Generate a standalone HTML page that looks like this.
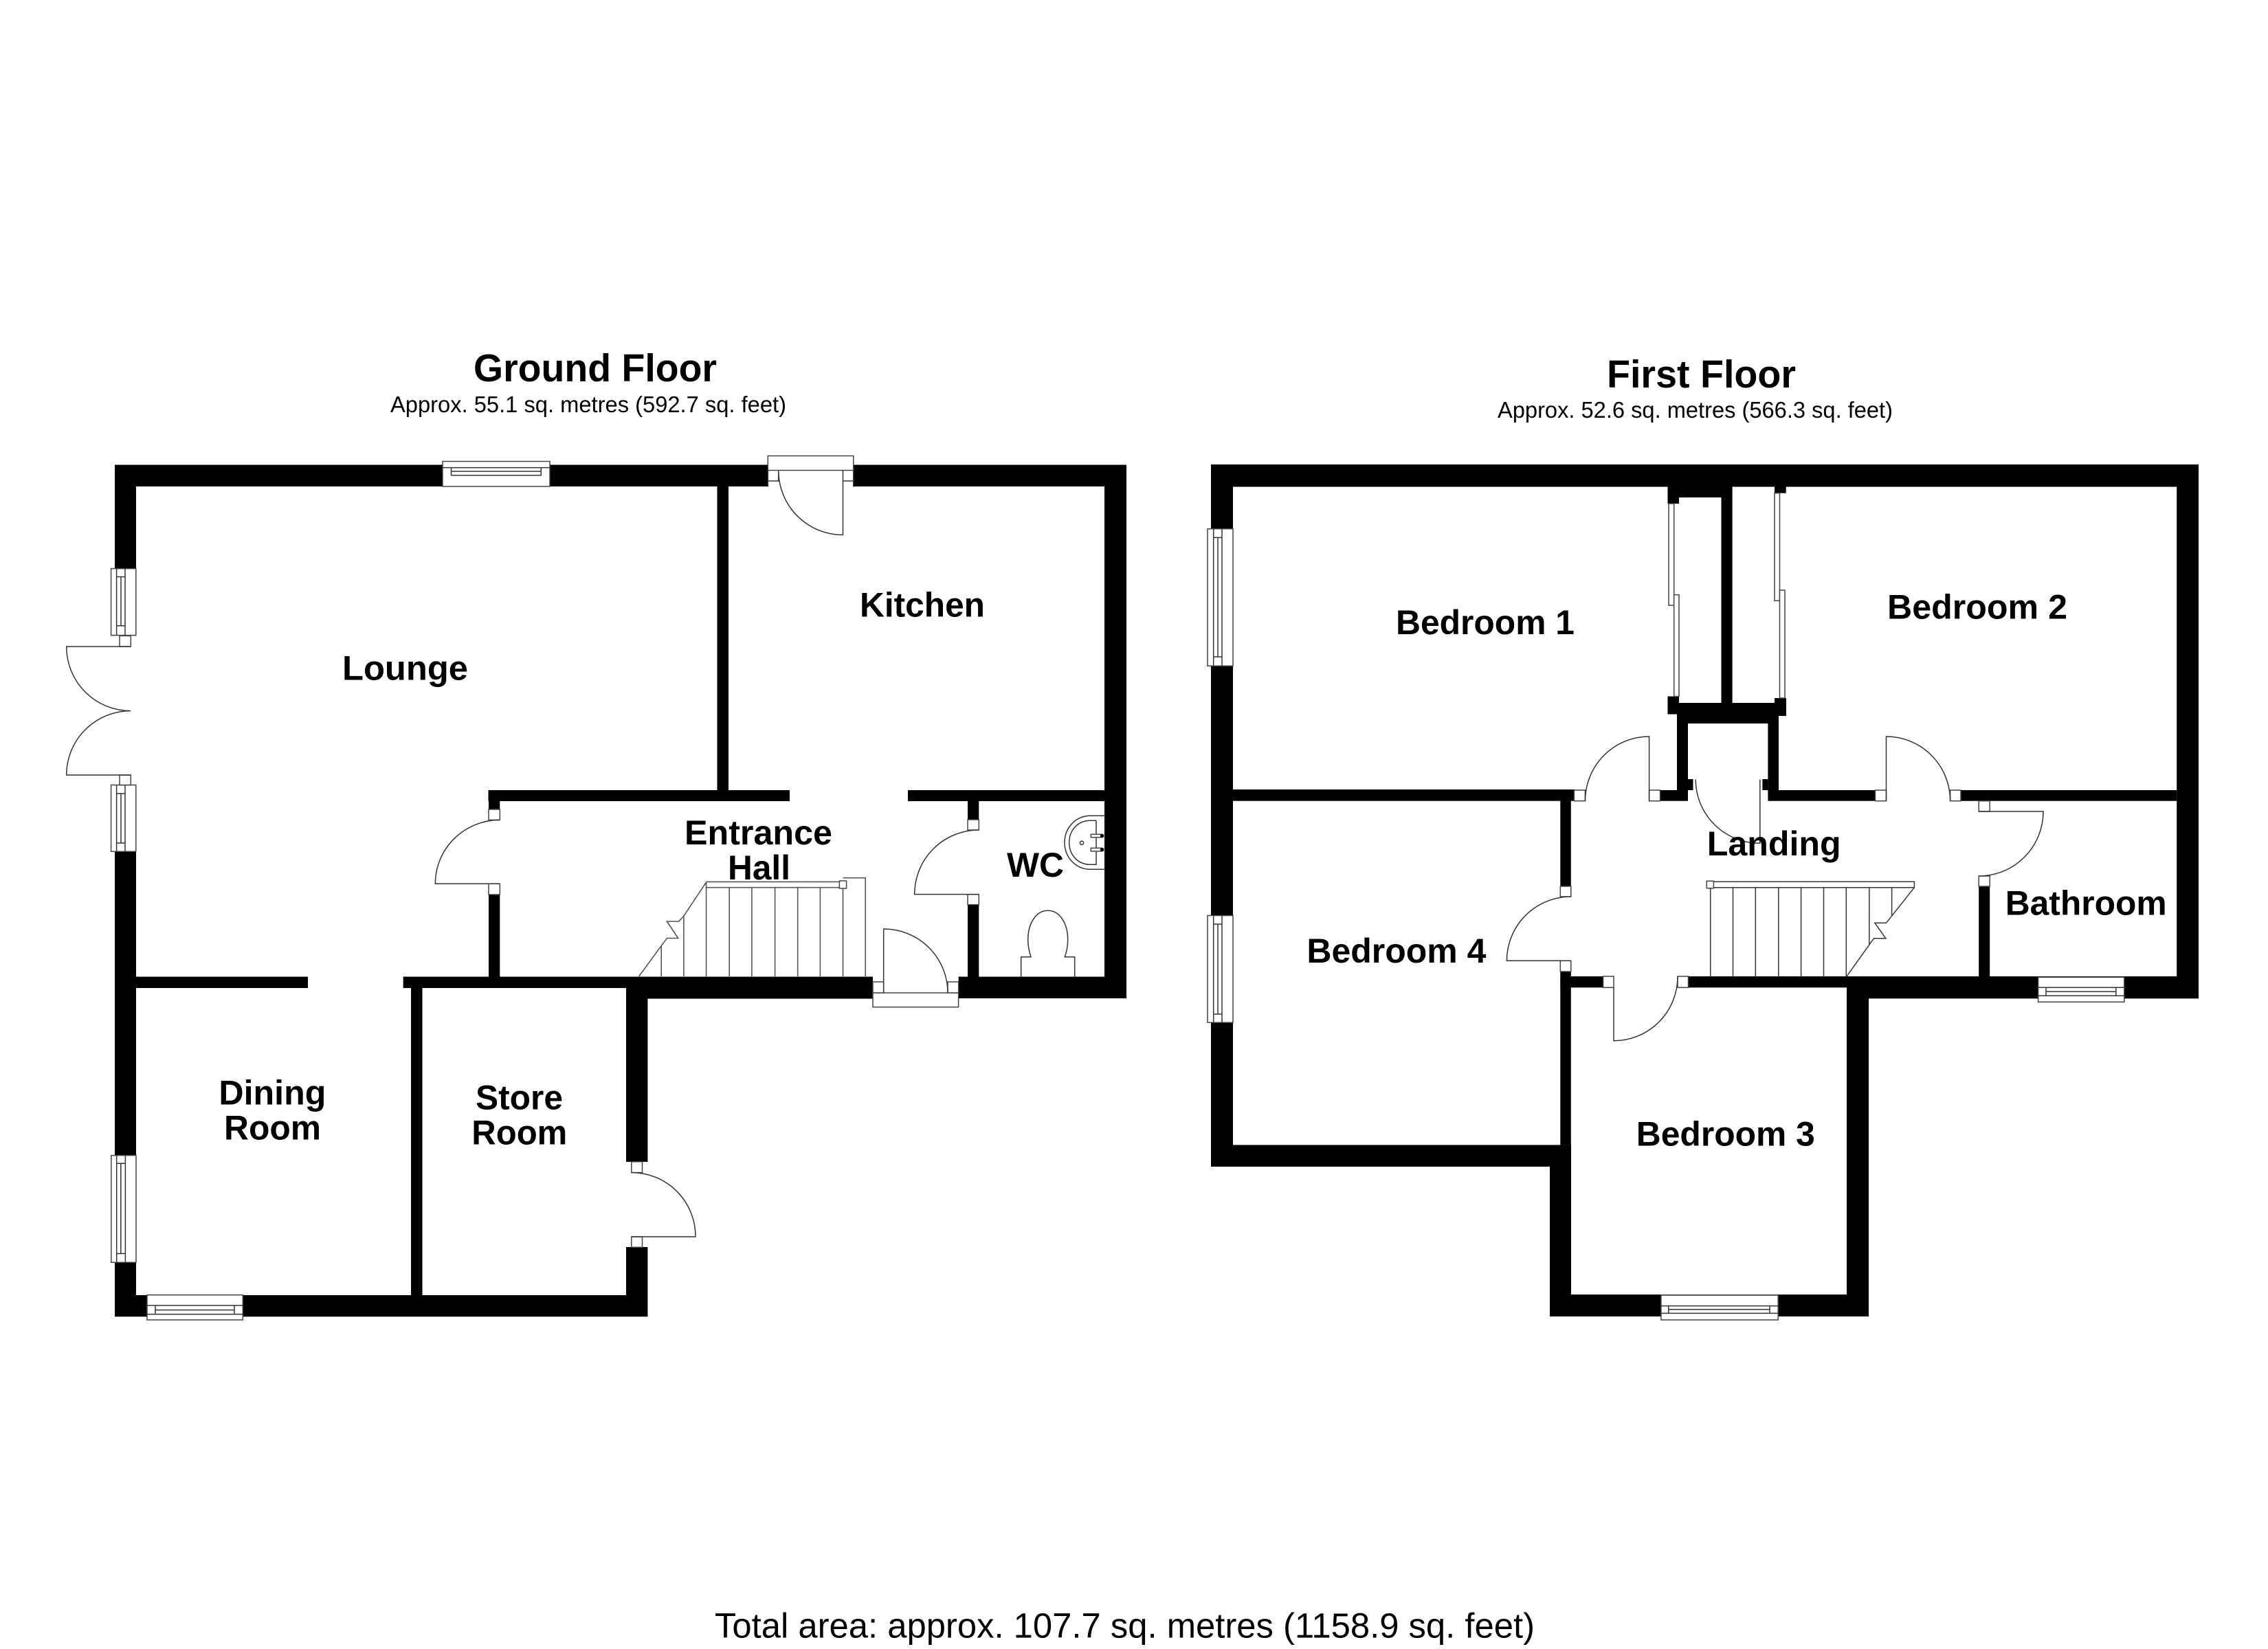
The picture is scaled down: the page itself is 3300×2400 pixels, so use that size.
<!DOCTYPE html>
<html><head><meta charset="utf-8"><style>
html,body{margin:0;padding:0;background:#fff;width:3300px;height:2400px;overflow:hidden}
svg{display:block}
text{font-family:"Liberation Sans",Arial,sans-serif;fill:#000}
.l{font-weight:bold;font-size:50px}
.s{font-size:33px}
.w{fill:#000}
.f{fill:#fff;stroke:#444;stroke-width:1.5}
.n{fill:none;stroke:#333;stroke-width:1.5}
.g{fill:none;stroke:#555;stroke-width:1.6}
</style></head><body>
<svg width="3300" height="2400" viewBox="0 0 3300 2400" xmlns="http://www.w3.org/2000/svg">
<rect width="3300" height="2400" fill="#fff"/>
<!-- GROUND WALLS -->
<path class="w" d="M167 676.5H1639V708H198V828H167Z"/>
<rect class="w" x="167" y="828" width="31" height="97"/>
<rect class="w" x="167" y="1239" width="31" height="677"/>
<rect class="w" x="1607" y="676.5" width="32" height="776.5"/>
<rect class="w" x="1043.5" y="708" width="16.5" height="442"/>
<rect class="w" x="710.5" y="1150" width="438.5" height="16"/>
<rect class="w" x="1321" y="1150" width="286" height="16"/>
<rect class="w" x="711" y="1150" width="16.3" height="28"/>
<rect class="w" x="711" y="1302" width="16.3" height="120"/>
<rect class="w" x="1408" y="1166" width="16.3" height="27"/>
<rect class="w" x="1408" y="1317" width="16.3" height="105"/>
<rect class="w" x="586.7" y="1421.5" width="683.3" height="16.5"/>
<rect class="w" x="911" y="1421.5" width="359" height="32"/>
<rect class="w" x="1394.7" y="1421.5" width="244.3" height="31.5"/>
<rect class="w" x="198" y="1421.5" width="250" height="16.5"/>
<rect class="w" x="598" y="1438" width="16.5" height="447"/>
<rect class="w" x="911" y="1438" width="31.4" height="253"/>
<rect class="w" x="911" y="1815" width="31.4" height="70"/>
<rect class="w" x="167" y="1885" width="775.4" height="31.3"/>
<!-- GROUND WINDOWS -->
<g>
<rect class="f" x="644" y="671.5" width="156" height="36.5"/>
<path class="n" d="M644 680.6H800M656.5 680.6V691.7H787.3V680.6M656.5 686H787.3"/>
<rect class="f" x="161.6" y="827.6" width="36.2" height="97"/>
<path class="n" d="M169.6 827.6V924.6M169.6 839.5H182V910.7H169.6M176 839.5V910.7M182 827.6V924.6"/>
<rect class="f" x="161.6" y="1142.5" width="36.2" height="96.8"/>
<path class="n" d="M169.6 1142.5V1239.3M169.6 1155H182V1227H169.6M176 1155V1227M182 1142.5V1239.3"/>
<rect class="f" x="161.8" y="1681.6" width="36.2" height="155.7"/>
<path class="n" d="M169.7 1681.6V1837.3M169.7 1693.3H182.4V1824.5H169.7M175.8 1693.3V1824.5M182.4 1681.6V1837.3"/>
<rect class="f" x="214" y="1884.7" width="139.3" height="36.3"/>
<path class="n" d="M214 1912.8H353.3M226 1912.8V1900H341V1912.8M226 1906.6H341M214 1900H353.3"/>
</g>
<!-- GROUND DOORS -->
<rect class="f" x="174" y="925.4" width="16.3" height="15.6"/>
<rect class="f" x="174" y="1128" width="16.3" height="14.5"/>
<path class="n" d="M190 941H96.7A93.5 93.5 0 0 0 190 1034.6M190 1128H96.7A93.5 93.5 0 0 1 190 1034.6"/>
<rect x="1117.3" y="675" width="124.5" height="35" fill="#fff"/>
<rect class="f" x="1117.3" y="663.5" width="124.5" height="21"/>
<path class="n" d="M1117.3 684.5V708.5M1241.8 684.5V708.5M1117.3 700H1132.7V684.5M1241.8 700H1226.5M1226.5 684.5V778.5A93.8 93.8 0 0 1 1132.7 684.5"/>
<rect class="f" x="711" y="1178" width="16.3" height="15.4"/>
<rect class="f" x="711" y="1286.2" width="16.3" height="15.8"/>
<path class="n" d="M727.3 1286.2H633.3A94 93 0 0 1 727.3 1193.4"/>
<rect class="f" x="1408" y="1193" width="16.3" height="15"/>
<rect class="f" x="1408" y="1301.7" width="16.3" height="15"/>
<path class="n" d="M1424 1301.6H1330.7A93.5 93.5 0 0 1 1424 1208"/>
<rect class="f" x="1270" y="1445" width="124.6" height="20.7"/>
<rect class="f" x="1270" y="1429" width="15.7" height="16"/>
<rect class="f" x="1379" y="1429" width="15.7" height="16"/>
<path class="n" d="M1285.7 1445V1352A93.3 93 0 0 1 1379 1445"/>
<rect class="f" x="918.8" y="1690.8" width="15.7" height="15.8"/>
<rect class="f" x="918.8" y="1800" width="15.7" height="15.3"/>
<path class="n" d="M918.8 1800H1012A93 93 0 0 0 918.8 1706.6"/>
<!-- GROUND STAIRS -->
<path class="g" d="M1027.6 1283.4H1226.5M1027.6 1291.7H1226.5M1027.6 1283.4V1421M1061.2 1291.7V1421M1093.9 1291.7V1421M1127.6 1291.7V1421M1160.7 1291.7V1421M1193.4 1291.7V1421M1226.5 1291.7V1421M1226.5 1277.7H1259.2V1421M994.9 1333V1421M962.2 1376V1421M1027.6 1284L995 1333L987.8 1341H970.4L986.7 1365.5H970.4L929.6 1421"/>
<rect class="f" x="1221.4" y="1282" width="10.2" height="11"/>
<!-- WC FIXTURES -->
<path class="n" d="M1607 1187.3H1586.7C1565 1187.3 1549 1205 1549 1226.3S1565 1265.3 1586.7 1265.3H1607M1595 1194.3V1258.3H1586.7C1568 1258.3 1555.7 1244 1555.7 1226.3S1568 1194.3 1586.7 1194.3H1595"/>
<rect class="f" x="1587.3" y="1214.3" width="15" height="4.4"/>
<rect class="f" x="1587.3" y="1234.3" width="15" height="4.6"/>
<circle cx="1603.6" cy="1216.5" r="2.8"/><circle cx="1603.6" cy="1236.6" r="2.8"/>
<circle class="n" cx="1574" cy="1226.7" r="2.6"/>
<path class="n" d="M1485.7 1421.7V1392.7H1500C1497.5 1385 1495.7 1378 1495.7 1368C1495.7 1343 1508 1325.3 1524.7 1325.3S1553.7 1343 1553.7 1368C1553.7 1378 1552 1385 1549.3 1392.7H1563.7V1421.7"/>
<!-- FIRST WALLS -->
<path class="w" d="M1762 676H3199V708.5H1794V770H1762Z"/>
<rect class="w" x="1762" y="969" width="32" height="363.5"/>
<rect class="w" x="1762" y="1488" width="32" height="210"/>
<rect class="w" x="3167.2" y="676" width="31.8" height="777"/>
<rect class="w" x="1762" y="1666.4" width="524" height="31.6"/>
<rect class="w" x="1794" y="1149" width="497" height="16.7"/>
<rect class="w" x="2270.3" y="1165" width="15.5" height="125"/>
<rect class="w" x="2270.3" y="1414" width="15.5" height="252.4"/>
<rect class="w" x="2270.3" y="1421" width="62.3" height="16.3"/>
<rect class="w" x="2255" y="1698" width="31" height="218"/>
<rect class="w" x="2255" y="1884.1" width="464" height="31.9"/>
<rect class="w" x="2687" y="1421" width="32" height="495"/>
<rect class="w" x="2456.5" y="1421" width="742.5" height="16.3"/>
<rect class="w" x="2687" y="1421" width="512" height="32.3"/>
<rect class="w" x="2879.2" y="1290" width="16" height="131"/>
<rect class="w" x="2415.7" y="1150" width="40.3" height="15.7"/>
<rect class="w" x="2572.4" y="1150" width="156.1" height="15.7"/>
<rect class="w" x="2853" y="1150" width="314.2" height="15.7"/>
<rect class="w" x="2440" y="1052" width="16" height="98"/>
<rect class="w" x="2456" y="1134" width="7.5" height="16"/>
<rect class="w" x="2572.4" y="1052" width="15.6" height="98"/>
<rect class="w" x="2564.4" y="1134" width="8" height="16"/>
<rect class="w" x="2440" y="1023" width="148" height="30"/>
<rect class="w" x="2426.5" y="1013.5" width="16.5" height="26"/>
<rect class="w" x="2582" y="1016" width="17" height="26"/>
<rect class="w" x="2426.5" y="1023" width="172.5" height="16.5"/>
<rect class="w" x="2504.5" y="708" width="16.1" height="315"/>
<rect class="w" x="2426.5" y="708" width="78" height="16"/>
<rect class="w" x="2426.5" y="708" width="16.5" height="25"/>
<rect class="w" x="2582" y="708" width="16.7" height="9.7"/>
<!-- WARDROBE SLIDERS -->
<rect class="f" x="2428" y="733" width="7.7" height="148"/>
<rect class="f" x="2435.7" y="865.6" width="7.3" height="148"/>
<rect class="f" x="2582" y="717.7" width="7.5" height="156.6"/>
<rect class="f" x="2589.5" y="859" width="7.5" height="157"/>
<!-- FIRST WINDOWS -->
<rect class="f" x="1757" y="769.7" width="37" height="199.5"/>
<path class="n" d="M1765.7 769.7V969.2M1765.7 782.4H1778V956H1765.7M1772 782.4V956M1778 769.7V969.2"/>
<rect class="f" x="1757" y="1332.5" width="37" height="155.7"/>
<path class="n" d="M1765.7 1332.5V1488.2M1765.7 1345H1778V1476H1765.7M1772 1345V1476M1778 1332.5V1488.2"/>
<rect class="f" x="2416.9" y="1885" width="170.3" height="36"/>
<path class="n" d="M2416.9 1900.6H2587.2M2416.9 1911.4H2587.2M2427.7 1900.6V1911.4M2575 1900.6V1911.4M2427.7 1905.8H2575"/>
<rect class="f" x="2965.6" y="1422.3" width="125.2" height="36"/>
<path class="n" d="M2965.6 1449.3H3090.8M2977 1449.3V1437.3H3078.8V1449.3M2977 1443.3H3078.8M2965.6 1437.3H2977M3078.8 1437.3H3090.8"/>
<!-- FIRST DOORS -->
<rect class="f" x="2290.4" y="1150" width="16" height="15.7"/>
<rect class="f" x="2399.6" y="1150" width="16" height="15.7"/>
<path class="n" d="M2399.6 1165.7V1072A93 93.7 0 0 0 2306.5 1165.7"/>
<rect class="f" x="2728.5" y="1150" width="16" height="15.7"/>
<rect class="f" x="2837.6" y="1150" width="15.4" height="15.7"/>
<path class="n" d="M2744.5 1165.7V1072A93 93.7 0 0 1 2837.6 1165.7"/>
<path class="n" d="M2560.8 1134.5V1227.3A93.6 92.8 0 0 1 2467.2 1134.5"/>
<rect class="f" x="2270.3" y="1290" width="15.5" height="15"/>
<rect class="f" x="2270.3" y="1398.3" width="15.5" height="15.7"/>
<path class="n" d="M2285.7 1398.3H2192.4A93.3 93.3 0 0 1 2285.7 1305"/>
<rect class="f" x="2332.6" y="1421" width="15.4" height="16.3"/>
<rect class="f" x="2441" y="1421" width="15.5" height="16.3"/>
<path class="n" d="M2348 1437.3V1514.7A93 93.2 0 0 0 2441 1421.5"/>
<rect class="f" x="2879.2" y="1165.7" width="16" height="15.3"/>
<rect class="f" x="2879.2" y="1275" width="16" height="15"/>
<path class="n" d="M2879.2 1181H2973A93.8 94 0 0 1 2879.2 1275"/>
<!-- FIRST STAIRS -->
<path class="n" d="M2489 1283.3H2785.4V1291.7H2489M2488.7 1291.7V1421M2521.5 1291.7V1421M2554.3 1291.7V1421M2587.8 1291.7V1421M2620.6 1291.7V1421M2653.5 1291.7V1421M2686.3 1291.7V1421M2719.8 1291.7V1375M2752.6 1291.7V1333M2785.4 1291.7L2744.5 1343.3H2727.8L2743.9 1365.7H2726.5L2687 1421"/>
<rect class="f" x="2483.3" y="1282.3" width="10.1" height="10.4"/>
<!-- TEXT -->
<text x="689" y="555" font-weight="bold" font-size="57" textLength="354" lengthAdjust="spacingAndGlyphs">Ground Floor</text>
<text x="568" y="600" class="s" textLength="576" lengthAdjust="spacingAndGlyphs">Approx. 55.1 sq. metres (592.7 sq. feet)</text>
<text x="2338" y="564" font-weight="bold" font-size="57" textLength="275" lengthAdjust="spacingAndGlyphs">First Floor</text>
<text x="2179" y="608" class="s" textLength="575" lengthAdjust="spacingAndGlyphs">Approx. 52.6 sq. metres (566.3 sq. feet)</text>
<text x="1040" y="2383.5" font-size="51" textLength="1193" lengthAdjust="spacingAndGlyphs">Total area: approx. 107.7 sq. metres (1158.9 sq. feet)</text>
<text x="498" y="989.6" class="l" textLength="183" lengthAdjust="spacingAndGlyphs">Lounge</text>
<text x="1251" y="897.7" class="l" textLength="182" lengthAdjust="spacingAndGlyphs">Kitchen</text>
<text x="996" y="1228.9" class="l" textLength="215" lengthAdjust="spacingAndGlyphs">Entrance</text>
<text x="1059" y="1279.9" class="l" textLength="91" lengthAdjust="spacingAndGlyphs">Hall</text>
<text x="1465" y="1276" class="l" textLength="83" lengthAdjust="spacingAndGlyphs">WC</text>
<text x="318.4" y="1607.7" class="l" textLength="156" lengthAdjust="spacingAndGlyphs">Dining</text>
<text x="326" y="1658.7" class="l" textLength="141" lengthAdjust="spacingAndGlyphs">Room</text>
<text x="692" y="1614.3" class="l" textLength="127" lengthAdjust="spacingAndGlyphs">Store</text>
<text x="686.3" y="1665.3" class="l" textLength="139" lengthAdjust="spacingAndGlyphs">Room</text>
<text x="2031" y="922.8" class="l" textLength="260" lengthAdjust="spacingAndGlyphs">Bedroom 1</text>
<text x="2746" y="900.7" class="l" textLength="262" lengthAdjust="spacingAndGlyphs">Bedroom 2</text>
<text x="2380.8" y="1667.7" class="l" textLength="260" lengthAdjust="spacingAndGlyphs">Bedroom 3</text>
<text x="1901.4" y="1400.8" class="l" textLength="261" lengthAdjust="spacingAndGlyphs">Bedroom 4</text>
<text x="2483.7" y="1245" class="l" textLength="195" lengthAdjust="spacingAndGlyphs">Landing</text>
<text x="2917.7" y="1331.7" class="l" textLength="235" lengthAdjust="spacingAndGlyphs">Bathroom</text>
</svg>
</body></html>
